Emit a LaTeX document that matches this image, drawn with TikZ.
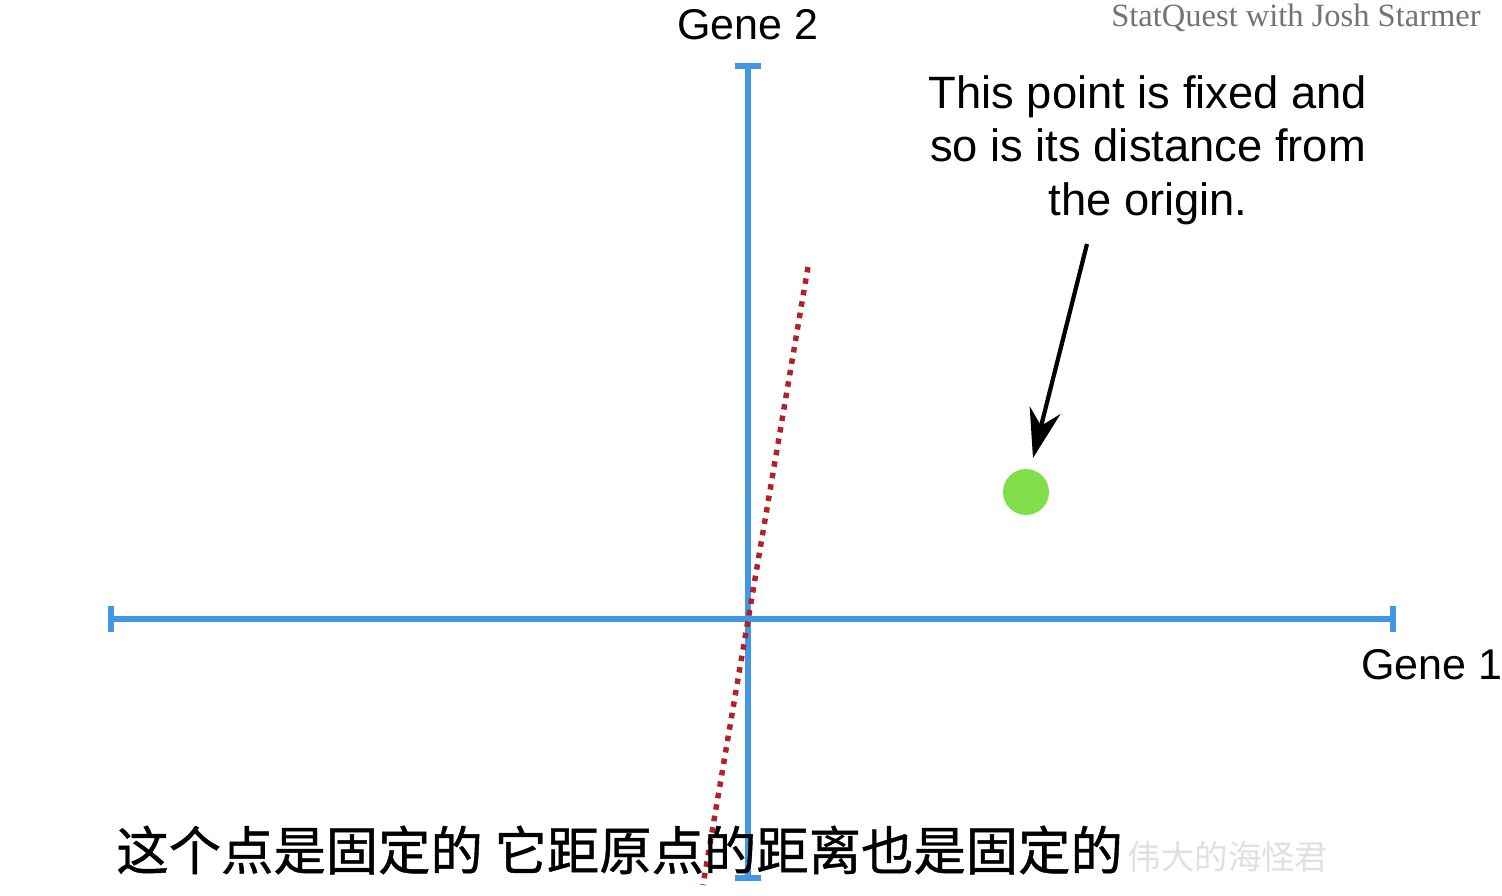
\documentclass[tikz,border=0pt]{standalone}
\usepackage{fontspec}
\setmainfont{Liberation Sans}
\newfontfamily\cjkfont[FakeBold=0.8]{Noto Sans CJK SC}
\newfontfamily\cjkmark{Noto Sans CJK SC}
\newfontfamily\markfont{Liberation Serif}
\usetikzlibrary{arrows.meta, positioning}

\definecolor{axisblue}{RGB}{66,152,230}
\definecolor{dotred}{RGB}{178,32,42}
\definecolor{pointgreen}{RGB}{128,222,74}

\begin{document}
\begin{tikzpicture}[
  x=0.02cm, y=-0.02cm,
  >=Stealth,
% 1. Blue axes with flat end bars
  axis/.style={
    draw=axisblue,
    line width=3.4pt,
    {Bar[width=15pt,line width=3.4pt]}-{Bar[width=15pt,line width=3.4pt]}
  },
% 2. Red dotted line through the origin
  dotline/.style={
    draw=dotred,
    line width=3.1pt,
    dash pattern=on 3.1pt off 3.5pt
  },
% 3. Labels
  axislabel/.style={
    font=\fontsize{24.5}{28}\selectfont
  },
  note/.style={
    font=\fontsize{25.8}{30.5}\selectfont,
    align=center
  },
  pointer/.style={
    draw=black,
    line width=2.4pt,
    -{Stealth[length=28pt,width=18pt]}
  }
]
  \useasboundingbox (0,0) rectangle (1502,896);

  % Axis end points
  \coordinate (xl) at (108,619);
  \coordinate (xr) at (1396,619);
  \coordinate (yt) at (748,63);
  \coordinate (yb) at (748,881);
  \coordinate (dtop) at (808,267);
  \coordinate (dbot) at (703,885);

  % Axes
  \draw[axis] (xl) -- (xr);
  \draw[axis] (yb) -- (yt);

  % Dotted line
  \draw[dotline] (dtop) -- (dbot);

  % Axis labels
  \node[axislabel] (g2) at (748,25) {Gene 2};
  \node[axislabel] (g1) at (1432,665) {Gene 1};

  % The fixed point
  \node[circle, fill=pointgreen, minimum size=0.92cm, inner sep=0pt] (pt) at (1026,492) {};

  % Note and arrow
  \node[note] (txt) at (1148,150) {This point is fixed and\\so is its distance from\\the origin.};
  \coordinate (tail) at (1087,244);
  \coordinate (head) at (1033,458);
  \draw[pointer] (tail) -- (head);

  % Watermarks
  \node[font=\markfont\fontsize{18.5}{20}\selectfont, text=black!55] (sq) at (1296,18) {StatQuest with Josh Starmer};
  \node[font=\cjkmark\fontsize{19}{22}\selectfont, text=black!12] (wm) at (1228,857) {伟大的海怪君};

  % Subtitle
  \node[font=\cjkfont\fontsize{29.8}{32}\selectfont, anchor=west, inner sep=0pt] (sub) at (116,850) {这个点是固定的\ 它距原点的距离也是固定的};
\end{tikzpicture}
\end{document}
